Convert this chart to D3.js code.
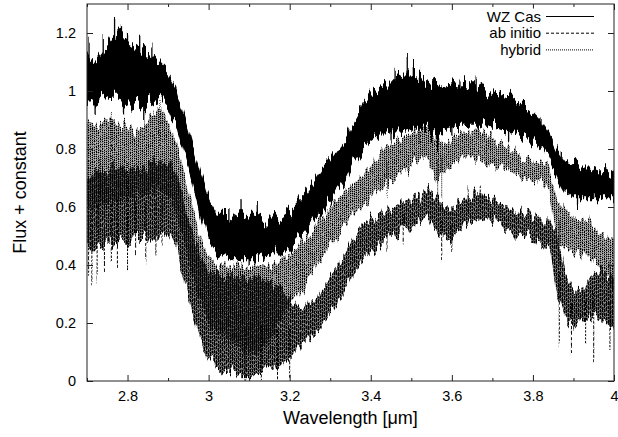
<!DOCTYPE html>
<html>
<head>
<meta charset="utf-8">
<script src="https://cdnjs.cloudflare.com/ajax/libs/d3/7.8.5/d3.min.js"></script>
<style>
body { margin: 0; background: #fff; }
text { font-family: "Liberation Sans", Arial, sans-serif; fill: #000; }
</style>
</head>
<body>
<svg id="chart" width="618" height="437"></svg>
<script>
"use strict";

var wavelength = [2.70,2.72,2.74,2.76,2.78,2.80,2.82,2.84,2.86,2.88,2.90,2.92,2.94,2.96,2.98,
	3.00,3.02,3.04,3.06,3.08,3.10,3.12,3.14,3.16,3.18,3.20,3.22,3.24,3.26,3.28,3.30,3.32,3.34,3.36,3.38,
	3.40,3.42,3.44,3.46,3.48,3.50,3.52,3.54,3.56,3.58,3.60,3.62,3.64,3.66,3.68,3.70,3.72,3.74,3.76,3.78,
	3.80,3.82,3.84,3.86,3.88,3.90,3.92,3.94,3.96,3.98,4.00];

var wzHi = [1.12,1.10,1.14,1.18,1.20,1.17,1.15,1.13,1.12,1.10,1.07,1.02,0.92,0.82,0.72,
	0.63,0.58,0.58,0.57,0.58,0.57,0.57,0.56,0.56,0.57,0.59,0.62,0.65,0.69,0.73,0.76,0.80,0.84,0.90,0.95,
	0.99,1.01,1.02,1.05,1.06,1.06,1.05,1.04,1.03,1.02,1.03,1.02,1.02,1.02,1.01,1.00,0.99,0.98,0.96,0.95,
	0.93,0.90,0.86,0.80,0.76,0.75,0.74,0.74,0.73,0.73,0.71];
var wzLo = [0.96,0.96,0.98,0.97,0.97,0.96,0.96,0.95,0.97,0.98,0.95,0.88,0.78,0.68,0.57,
	0.48,0.44,0.43,0.42,0.42,0.42,0.42,0.43,0.44,0.44,0.46,0.49,0.52,0.56,0.59,0.62,0.66,0.70,0.76,0.80,
	0.83,0.85,0.85,0.86,0.86,0.87,0.87,0.87,0.84,0.86,0.87,0.88,0.88,0.88,0.89,0.88,0.87,0.86,0.85,0.84,
	0.82,0.80,0.76,0.70,0.65,0.63,0.63,0.63,0.63,0.63,0.63];

var abHi = [0.70,0.72,0.73,0.73,0.74,0.74,0.74,0.73,0.75,0.77,0.76,0.72,0.62,0.52,0.43,
	0.38,0.37,0.36,0.37,0.36,0.35,0.36,0.35,0.33,0.31,0.28,0.25,0.25,0.28,0.32,0.36,0.40,0.45,0.50,0.53,
	0.55,0.57,0.58,0.60,0.62,0.63,0.64,0.66,0.64,0.60,0.60,0.62,0.63,0.65,0.64,0.63,0.61,0.60,0.59,0.58,
	0.57,0.56,0.56,0.50,0.37,0.32,0.30,0.35,0.38,0.37,0.35];
var abLo = [0.46,0.46,0.47,0.47,0.48,0.48,0.49,0.49,0.50,0.50,0.50,0.46,0.34,0.24,0.14,
	0.08,0.05,0.04,0.03,0.02,0.02,0.02,0.03,0.04,0.06,0.08,0.12,0.14,0.16,0.19,0.23,0.28,0.33,0.38,0.41,
	0.44,0.46,0.48,0.50,0.52,0.53,0.55,0.57,0.53,0.49,0.50,0.52,0.54,0.55,0.56,0.55,0.53,0.52,0.51,0.50,
	0.49,0.48,0.46,0.30,0.22,0.18,0.20,0.22,0.22,0.20,0.18];

var hyHi = [0.90,0.88,0.90,0.91,0.88,0.88,0.86,0.88,0.92,0.94,0.90,0.82,0.72,0.60,0.50,
	0.43,0.40,0.40,0.40,0.40,0.39,0.40,0.40,0.40,0.42,0.44,0.46,0.49,0.53,0.57,0.60,0.63,0.66,0.68,0.71,
	0.74,0.78,0.81,0.82,0.84,0.85,0.87,0.88,0.85,0.82,0.84,0.85,0.86,0.87,0.86,0.84,0.82,0.80,0.79,0.77,
	0.76,0.75,0.74,0.62,0.59,0.57,0.55,0.56,0.53,0.50,0.48];
var hyLo = [0.60,0.60,0.61,0.62,0.62,0.63,0.64,0.64,0.65,0.66,0.64,0.58,0.48,0.36,0.27,
	0.20,0.17,0.15,0.13,0.11,0.10,0.10,0.12,0.16,0.22,0.26,0.30,0.34,0.38,0.43,0.47,0.51,0.54,0.57,0.60,
	0.63,0.66,0.68,0.70,0.72,0.74,0.76,0.77,0.70,0.72,0.74,0.76,0.77,0.77,0.76,0.75,0.73,0.72,0.71,0.70,
	0.69,0.68,0.66,0.47,0.45,0.44,0.43,0.43,0.40,0.36,0.32];

// single spikes sticking out of the bands: [wavelength, flux]
var wzSpikes = [[2.705,1.18],[2.74,1.20],[2.768,1.245],[2.785,1.21],[2.80,1.20],[2.83,1.18],[2.86,1.16],
	[3.05,0.61],[3.08,0.62],[3.12,0.60],[3.46,1.08],[3.49,1.10],[3.505,1.09],[3.52,1.07],[3.62,1.04],
	[3.66,1.05],[3.82,0.92],[3.87,0.80],[2.72,0.93],[2.79,0.94],[2.84,0.91],[3.10,0.40],[3.45,0.82],
	[3.565,0.80],[3.60,0.84],[3.74,0.83],[3.91,0.60],[3.95,0.61]];
var abSpikes = [[2.704,0.36],[2.712,0.33],[2.725,0.34],[2.743,0.39],[2.76,0.40],[2.775,0.41],[2.80,0.38],
	[2.82,0.43],[2.845,0.41],[2.87,0.44],[2.885,0.45],[3.09,0.0],[3.13,0.0],[3.17,0.02],[3.20,0.01],
	[3.44,0.44],[3.48,0.46],[3.575,0.42],[3.60,0.46],[3.865,0.12],[3.895,0.10],[3.93,0.12],[3.95,0.06],
	[3.99,0.10],[3.64,0.66],[3.67,0.67]];
var hySpikes = [[2.76,0.93],[2.88,0.97],[3.52,0.88],[2.73,0.50],[2.80,0.52],[3.44,0.64],[3.565,0.64],
	[3.575,0.62],[3.865,0.40],[3.99,0.28]];

var xTicks = [2.8,3,3.2,3.4,3.6,3.8,4];
var xMinor = [2.7,2.9,3.1,3.3,3.5,3.7,3.9];
var yTicks = [0,0.2,0.4,0.6,0.8,1,1.2];
var legendNames = ["WZ Cas","ab initio","hybrid"];

var svg = d3.select("#chart");
var L = 87, R = 614, T = 4, B = 381;
var x = d3.scaleLinear().domain([2.7,4.0]).range([L,R]);
var y = d3.scaleLinear().domain([0,1.3]).range([B,T]);
var fmt = function(d){ return String(+d.toFixed(1)); };

var defs = svg.append("defs");
defs.append("clipPath").attr("id","plotclip")
	.append("rect").attr("x",L).attr("y",T).attr("width",R-L).attr("height",B-T);

// vertical-dash textures for the two model spectra
var abPat = defs.append("pattern").attr("id","abpat")
	.attr("patternUnits","userSpaceOnUse").attr("width",2).attr("height",4);
abPat.append("rect").attr("x",0).attr("y",0).attr("width",1.7).attr("height",3.6).attr("fill","#000");
var hyPat = defs.append("pattern").attr("id","hypat")
	.attr("patternUnits","userSpaceOnUse").attr("width",2).attr("height",2);
hyPat.append("rect").attr("x",0).attr("y",0).attr("width",1.5).attr("height",1.5).attr("fill","#000");

// ragged edge: shift the band up/down along x only (R channel forced to 0.5 -> no x shift)
function addJitter(id, seed, scale) {
	var f = defs.append("filter").attr("id",id).attr("filterUnits","userSpaceOnUse")
		.attr("x",L-10).attr("y",T-20).attr("width",R-L+20).attr("height",B-T+40);
	f.append("feTurbulence").attr("type","fractalNoise").attr("baseFrequency","0.3 0.015")
		.attr("numOctaves",3).attr("seed",seed).attr("result","noise");
	f.append("feColorMatrix").attr("in","noise").attr("type","matrix")
		.attr("values","0 0 0 0 0.5  0 1 0 0 0  0 0 1 0 0  0 0 0 0 1").attr("result","map");
	f.append("feDisplacementMap").attr("in","SourceGraphic").attr("in2","map")
		.attr("scale",scale).attr("xChannelSelector","R").attr("yChannelSelector","G");
}
addJitter("jitWZ", 3, 28);
addJitter("jitAB", 7, 26);
addJitter("jitHY", 11, 24);

var plot = svg.append("g").attr("clip-path","url(#plotclip)");

function drawSeries(hi, lo, spikes, fill, dash, width, filt) {
	var g = plot.append("g").attr("filter","url(#"+filt+")");
	var rows = wavelength.map(function(w,i){ return {w:w, hi:hi[i], lo:lo[i]}; });
	var area = d3.area()
		.x(function(d){ return x(d.w); })
		.y0(function(d){ return y(d.lo); })
		.y1(function(d){ return y(d.hi); });
	g.append("path").datum(rows).attr("d",area).attr("fill",fill);
	var mid = d3.scaleLinear().domain(wavelength)
		.range(wavelength.map(function(w,i){ return (hi[i]+lo[i])/2; }));
	g.selectAll(null).data(spikes).enter().append("line")
		.attr("x1",function(d){ return x(d[0]); })
		.attr("x2",function(d){ return x(d[0]); })
		.attr("y1",function(d){ return y(mid(d[0])); })
		.attr("y2",function(d){ return y(d[1]); })
		.attr("stroke","#000").attr("stroke-width",width)
		.attr("stroke-dasharray",dash);
}

drawSeries(hyHi, hyLo, hySpikes, "url(#hypat)", "1,1", 1, "jitHY");
drawSeries(abHi, abLo, abSpikes, "url(#abpat)", "3,1.5", 1, "jitAB");
drawSeries(wzHi, wzLo, wzSpikes, "#000", null, 1.3, "jitWZ");

// axes, ticks pointing inwards as in gnuplot
function styleAxis(g) {
	g.select(".domain").remove();
	g.selectAll(".tick line").attr("stroke","#222");
	g.selectAll(".tick text").style("font-size","14.5px").attr("fill","#000");
}
svg.append("g").attr("transform","translate(0,"+B+")")
	.call(d3.axisBottom(x).tickValues(xTicks).tickSize(-6).tickPadding(10).tickFormat(fmt)).call(styleAxis);
svg.append("g").attr("transform","translate(0,"+B+")")
	.call(d3.axisBottom(x).tickValues(xMinor).tickSize(-3).tickFormat("")).call(styleAxis);
svg.append("g").attr("transform","translate(0,"+T+")")
	.call(d3.axisTop(x).tickValues(xTicks).tickSize(-6).tickFormat("")).call(styleAxis);
svg.append("g").attr("transform","translate(0,"+T+")")
	.call(d3.axisTop(x).tickValues(xMinor).tickSize(-3).tickFormat("")).call(styleAxis);
svg.append("g").attr("transform","translate("+L+",0)")
	.call(d3.axisLeft(y).tickValues(yTicks).tickSize(-6).tickPadding(11).tickFormat(fmt)).call(styleAxis);
svg.append("g").attr("transform","translate("+R+",0)")
	.call(d3.axisRight(y).tickValues(yTicks).tickSize(-6).tickFormat("")).call(styleAxis);

svg.append("rect").attr("x",L).attr("y",T).attr("width",R-L).attr("height",B-T)
	.attr("fill","none").attr("stroke","#222").attr("stroke-width",1);

svg.append("text").attr("x",(L+R)/2).attr("y",424).attr("text-anchor","middle")
	.style("font-size","18px").text("Wavelength [\u03bcm]");
svg.append("text").attr("transform","translate(26,"+((T+B)/2)+") rotate(-90)")
	.attr("text-anchor","middle").style("font-size","18px").text("Flux + constant");

// legend
var legDash = [null,"3,2","1,1"];
var leg = svg.append("g");
legendNames.forEach(function(name,i){
	var ly = 16.5 + i*16.7;
	leg.append("rect").attr("x",470).attr("y",ly-8).attr("width",128).attr("height",16).attr("fill","#fff");
	leg.append("text").attr("x",541).attr("y",ly).attr("dy","0.35em").attr("text-anchor","end")
		.style("font-size","15px").text(name);
	leg.append("line").attr("x1",546).attr("x2",594).attr("y1",ly).attr("y2",ly)
		.attr("stroke","#000").attr("stroke-width",1).attr("stroke-dasharray",legDash[i]);
});
</script>
</body>
</html>
